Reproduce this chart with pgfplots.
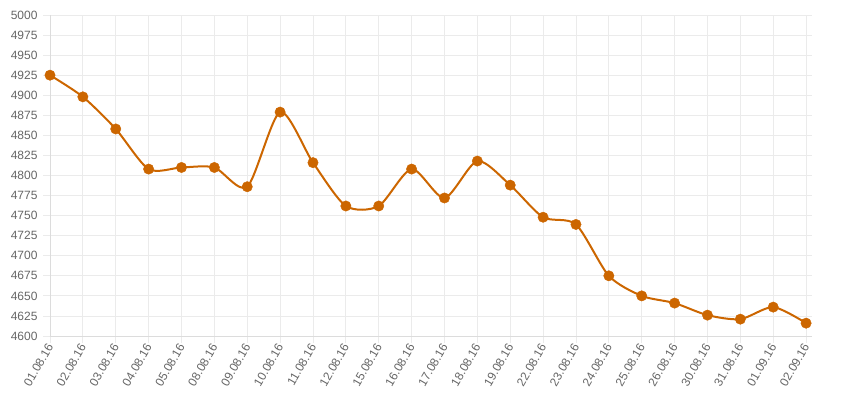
\documentclass[border=0pt]{standalone}
\usepackage{pgfplots}
\pgfplotsset{compat=1.18}
\usepackage{fontspec}
\setmainfont{Liberation Sans}

\definecolor{lineorange}{RGB}{204,102,0}
\definecolor{gridgray}{RGB}{235,235,235}
\definecolor{axisgray}{RGB}{220,220,220}
\definecolor{labelgray}{RGB}{102,102,102}

\begin{document}
\begin{tikzpicture}
\begin{axis}[
    name=main,
    scale only axis,
    width=762pt,
    height=321pt,
    xmin=0, xmax=23.18,
    ymin=4600, ymax=5000,
    ytick={4600,4625,...,5000},
    xtick={0,...,23},
    xticklabels={01.08.16,02.08.16,03.08.16,04.08.16,05.08.16,08.08.16,09.08.16,10.08.16,11.08.16,12.08.16,15.08.16,16.08.16,17.08.16,18.08.16,19.08.16,22.08.16,23.08.16,24.08.16,25.08.16,26.08.16,30.08.16,31.08.16,01.09.16,02.09.16},
    axis lines*=left,
    axis line style={axisgray, line width=0.8pt, -},
    grid=major,
    grid style={gridgray, line width=0.8pt},
    tick align=outside,
    major tick length=7pt,
    tick style={gridgray, line width=0.8pt},
    ticklabel style={font=\fontsize{12}{14}\selectfont, text=labelgray},
    yticklabel style={xshift=-2pt},
    xticklabel style={rotate=60, anchor=east, xshift=2pt, yshift=-1pt},
    /pgf/number format/assume math mode=true,
    yticklabel={\pgfmathprintnumber[fixed,1000 sep={}]{\tick}},
    clip=false,
]
% line
\addplot[
    color=lineorange,
    line width=2pt,
    smooth,
    tension=0.45,
    no markers,
] coordinates {
    (0,4925) (1,4898) (2,4858) (3,4808) (4,4810) (5,4810)
    (6,4786) (7,4879) (8,4816) (9,4762) (10,4762) (11,4808)
    (12,4772) (13,4818) (14,4788) (15,4748) (16,4739) (17,4675)
    (18,4650) (19,4641) (20,4626) (21,4621) (22,4636) (23,4616)
};
% points
\addplot[
    color=lineorange,
    only marks,
    mark=*,
    mark size=5.2pt,
    mark options={fill=lineorange, draw=none},
] coordinates {
    (0,4925) (1,4898) (2,4858) (3,4808) (4,4810) (5,4810)
    (6,4786) (7,4879) (8,4816) (9,4762) (10,4762) (11,4808)
    (12,4772) (13,4818) (14,4788) (15,4748) (16,4739) (17,4675)
    (18,4650) (19,4641) (20,4626) (21,4621) (22,4636) (23,4616)
};
\end{axis}
\pgfresetboundingbox
\path[use as bounding box] ([shift={(-50pt,-68pt)}]main.south west) rectangle ([shift={(797pt,336pt)}]main.south west);
\end{tikzpicture}
\end{document}
